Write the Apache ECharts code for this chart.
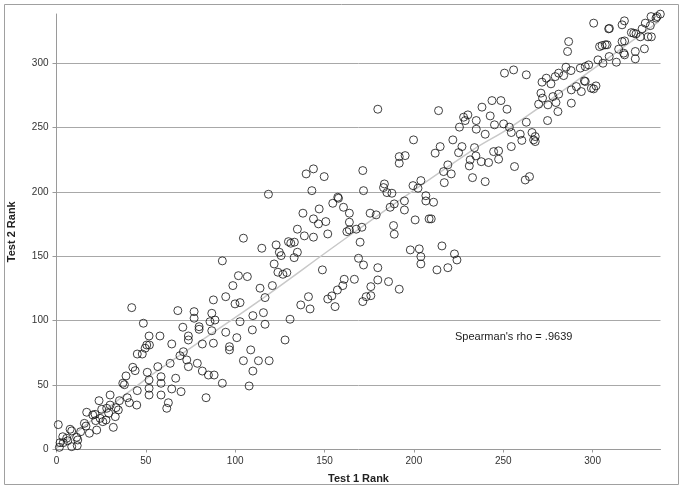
<!DOCTYPE html>
<html>
<head>
<meta charset="utf-8">
<script src="https://cdn.jsdelivr.net/npm/echarts@6/dist/echarts.min.js"></script>
<style>html,body{margin:0;padding:0;background:#fff}#c{width:685px;height:497px}</style>
</head>
<body>
<div id="c"></div>
<script>
// Test 1 rank (x) and Test 2 rank (y), grouped by region
const test1Rank = [
  45.2,42.7,44.0,38.9,37.1,38.0,45.2,39.6,40.8,44.9,30.0,23.8,35.2,30.0,33.3,34.6,25.3,28.1,16.9,20.3,21.6,29.2,32.9,24.4,27.7,21.9,15.6,16.5,25.9,31.8,22.5,18.4,1.0,7.6,8.5,13.5,3.5,5.7,11.3,11.9,6.3,3.8,2.0,8.5,11.6,1.6,
  87.8,42.1,67.9,77.0,77.0,86.9,85.9,88.7,48.6,70.7,79.8,79.8,86.9,51.8,57.9,73.8,73.8,50.5,52.0,49.6,64.5,81.6,87.8,48.0,71.0,69.1,72.9,63.6,78.8,73.8,56.7,50.8,81.6,85.0,88.2,58.5,58.5,51.8,66.7,51.8,51.8,64.5,69.7,58.5,83.7,62.6,61.7,
  94.7,99.9,102.7,94.7,102.7,109.9,109.6,100.9,96.8,96.8,108.7,115.8,116.7,116.7,104.6,113.0,119.0,109.9,92.8,107.8,130.7,127.9,136.7,141.0,141.9,151.8,154.1,155.9,171.4,173.3,
  139.7,143.8,149.8,171.4,118.6,142.9,171.8,157.4,157.8,154.6,147.0,160.6,137.9,163.9,143.8,146.6,150.7,163.9,134.8,162.5,163.9,167.7,170.9,138.7,143.8,151.8,104.6,114.9,122.9,129.8,131.1,133.1,124.7,125.7,134.8,133.0,169.9,169.0,171.8,92.8,121.8,148.8,123.9,126.7,128.9,101.8,106.8,98.7,113.9,120.8,161.0,160.2,166.7,157.2,
  191.8,195.1,191.8,211.9,225.0,183.5,183.0,184.9,187.7,199.5,202.3,203.9,194.7,194.7,206.7,206.7,211.0,189.0,186.7,175.5,178.9,200.7,208.5,209.7,188.6,189.0,219.0,216.6,220.9,217.0,231.5,234.7,231.0,237.7,241.8,247.4,232.8,239.9,244.6,247.4,256.3,198.0,203.0,203.9,203.9,215.7,222.7,224.1,212.9,219.0,179.8,179.8,185.8,175.9,175.9,191.8,
  179.8,213.8,250.7,255.8,243.7,248.7,238.1,252.1,227.8,230.2,228.7,234.9,242.7,225.5,234.9,245.1,250.2,253.4,254.5,239.9,199.8,221.8,214.7,226.9,233.9,254.5,262.3,264.7,260.4,
  300.6,309.0,309.4,316.5,317.8,321.7,323.0,327.7,329.5,332.3,332.7,335.5,336.1,337.9,326.7,331.0,332.9,324.3,286.6,286.0,303.9,305.3,307.1,308.1,316.5,317.9,314.6,317.4,317.9,309.3,313.3,323.9,323.9,329.0,303.0,305.8,295.9,293.1,297.8,285.1,287.9,281.0,283.8,279.1,274.1,271.7,276.7,295.4,295.9,290.9,288.1,293.7,299.3,300.6,301.9,271.1,272.0,281.0,277.8,279.5,275.0,269.8,288.1,280.6,274.8,262.9,262.9,259.5,266.1,267.9,267.0,267.9
];
const test2Rank = [
  74.1,63.8,61.2,57.1,51.4,50.3,45.7,40.2,36.3,34.5,42.3,37.9,37.9,34.5,32.5,30.7,31.2,32.0,28.9,26.8,27.3,28.1,25.5,24.2,22.9,22.4,20.3,18.2,21.6,17.2,15.1,12.6,19.3,15.7,14.4,13.8,9.9,8.7,9.5,7.4,6.8,5.3,5.3,2.2,3.0,1.7,
  116.1,110.1,107.8,107.0,101.9,105.7,99.2,100.5,98.0,94.9,95.3,93.3,92.2,88.1,88.1,88.1,85.0,81.1,81.1,78.6,81.9,81.9,82.5,74.1,75.9,72.8,69.5,66.9,66.9,64.3,64.3,59.9,60.9,57.8,57.8,56.5,51.4,54.0,55.3,47.5,42.3,47.0,44.9,42.3,40.2,36.3,32.0,
  118.6,113.0,114.0,91.0,99.2,103.9,92.8,86.8,79.8,77.3,77.3,106.2,97.2,117.9,68.9,68.9,68.9,60.9,51.4,49.3,101.1,85.0,112.2,118.6,109.1,116.8,119.2,110.9,114.8,118.6,
  213.9,217.8,211.8,216.5,198.1,200.9,200.9,195.8,195.0,191.1,186.7,188.0,183.4,183.4,179.0,175.1,176.9,176.4,171.0,169.1,170.4,171.0,172.5,165.8,164.8,167.3,164.0,156.2,158.8,161.3,160.1,160.9,153.1,150.5,153.1,148.9,160.9,148.4,143.2,146.4,144.0,139.4,137.6,136.0,137.3,134.9,134.2,127.2,125.2,127.2,132.1,127.2,132.1,123.8,
  227.3,228.1,222.2,230.0,230.4,206.1,203.3,199.4,198.9,204.8,202.8,208.7,192.9,185.9,197.0,192.9,191.9,190.6,188.0,183.4,182.1,178.2,179.0,179.0,173.8,167.1,220.9,215.7,213.9,207.1,224.8,227.9,220.1,223.4,222.7,225.3,211.0,207.9,231.2,231.8,219.6,154.9,155.7,149.7,144.0,158.0,151.8,147.1,139.4,141.1,141.1,131.6,130.3,126.4,119.4,124.4,
  264.1,263.0,292.1,294.6,270.8,270.8,265.7,264.1,257.9,259.7,255.3,255.3,258.9,250.2,248.6,252.0,252.7,250.2,246.0,244.7,240.3,240.3,235.1,235.1,234.3,235.1,209.2,211.8,239.9,
  330.9,326.5,326.8,329.6,332.7,323.6,323.1,326.5,330.9,329.0,336.0,334.8,336.0,337.9,320.3,320.3,320.3,322.6,316.6,308.9,312.7,313.5,314.1,314.1,316.6,317.1,310.7,307.6,306.3,305.0,300.6,308.9,303.2,311.0,302.4,299.8,297.2,296.0,298.5,296.7,294.1,292.1,290.2,289.4,288.2,285.1,283.8,286.1,285.6,281.7,279.1,277.8,280.4,279.9,282.2,276.6,272.7,275.8,273.9,269.3,267.5,268.0,268.8,262.3,255.3,290.8,254.0,244.7,246.0,242.9,240.3,239.0
];
// smooth fit line
const fitX = [0, 47, 80, 110, 167, 233, 254, 300, 337];
const fitY = [1, 51.5, 83.5, 112, 169, 232.5, 250, 295, 332];
const tickValues = [0, 50, 100, 150, 200, 250, 300];
const rhoText = "Spearman's rho = .9639";

const points = test1Rank.map((x, i) => [x, test2Rank[i]]);
const fit = fitX.map((x, i) => [x, fitY[i]]);
const FONT = '"Liberation Sans", Arial, sans-serif';
const lbl = v => tickValues.includes(v) ? String(v) : '';

const chart = echarts.init(document.getElementById('c'), null, {renderer: 'canvas'});
chart.setOption({
  animation: false,
  backgroundColor: '#fff',
  grid: {left: 56.5, right: 24.5, top: 14, bottom: 47.5, containLabel: false, outerBoundsMode: 'none'},
  xAxis: {
    type: 'value', min: 0, max: 338, interval: 50,
    name: 'Test 1 Rank', nameLocation: 'middle', nameGap: 24,
    nameTextStyle: {fontFamily: FONT, fontWeight: 'bold', fontSize: 11, color: '#222'},
    axisLine: {show: true, lineStyle: {color: '#9a9a9a', width: 1}},
    axisTick: {show: true, length: 3, lineStyle: {color: '#9a9a9a'}},
    axisLabel: {formatter: lbl, color: '#333', fontFamily: FONT, fontSize: 10, margin: 7, showMaxLabel: false},
    splitLine: {show: false}
  },
  yAxis: {
    type: 'value', min: 0, max: 338, interval: 50,
    name: 'Test 2 Rank', nameLocation: 'middle', nameGap: 39,
    nameTextStyle: {fontFamily: FONT, fontWeight: 'bold', fontSize: 11, color: '#222'},
    axisLine: {show: true, lineStyle: {color: '#9a9a9a', width: 1}},
    axisTick: {show: true, length: 4, lineStyle: {color: '#9a9a9a'}},
    axisLabel: {formatter: lbl, color: '#333', fontFamily: FONT, fontSize: 10, margin: 8, showMaxLabel: false},
    splitLine: {show: true, showMinLine: false, showMaxLine: false, lineStyle: {color: '#a8a8a8', width: 1}}
  },
  graphic: [
    {type: 'rect', shape: {x: 4.5, y: 4.5, width: 674, height: 480}, style: {fill: 'none', stroke: '#a0a0a0', lineWidth: 1}, silent: true},
    {type: 'text', left: 455, top: 331, style: {text: rhoText, font: '11px ' + FONT, fill: '#222'}, silent: true}
  ],
  series: [
    {
      type: 'line', data: fit, smooth: 0.4, symbol: 'none', silent: true, z: 1,
      lineStyle: {color: '#c8c8c8', width: 1.5}
    },
    {
      type: 'scatter', data: points, symbol: 'circle', symbolSize: 8, z: 2,
      itemStyle: {color: 'rgba(255,255,255,0)', borderColor: '#111', borderWidth: 1}
    }
  ]
});
</script>
</body>
</html>
